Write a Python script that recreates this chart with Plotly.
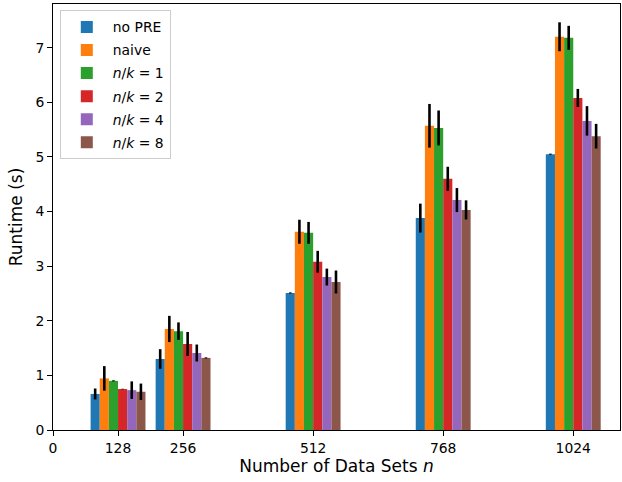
import plotly.graph_objects as go

n_values = [128, 256, 512, 768, 1024]
series_names = ["no PRE", "naive", "<i>n</i>/<i>k</i> = 1", "<i>n</i>/<i>k</i> = 2",
                "<i>n</i>/<i>k</i> = 4", "<i>n</i>/<i>k</i> = 8"]
no_pre = [0.66, 1.30, 2.51, 3.88, 5.05]
no_pre_err = [0.10, 0.18, 0.01, 0.265, 0.01]
naive = [0.945, 1.85, 3.63, 5.57, 7.20]
naive_err = [0.225, 0.24, 0.22, 0.40, 0.265]
nk1 = [0.90, 1.81, 3.61, 5.53, 7.18]
nk1_err = [0.01, 0.16, 0.20, 0.32, 0.22]
nk2 = [0.75, 1.575, 3.08, 4.60, 6.08]
nk2_err = [0.005, 0.22, 0.20, 0.22, 0.165]
nk4 = [0.73, 1.41, 2.80, 4.21, 5.66]
nk4_err = [0.16, 0.155, 0.155, 0.22, 0.27]
nk8 = [0.70, 1.32, 2.71, 4.03, 5.38]
nk8_err = [0.15, 0.01, 0.21, 0.175, 0.225]
x_ticks = [0, 128, 256, 512, 768, 1024]
y_ticks = [0, 1, 2, 3, 4, 5, 6, 7]

colors = ["#1f77b4", "#ff7f0e", "#2ca02c", "#d62728", "#9467bd", "#8c564b"]
all_vals = [no_pre, naive, nk1, nk2, nk4, nk8]
all_errs = [no_pre_err, naive_err, nk1_err, nk2_err, nk4_err, nk8_err]

fig = go.Figure()
for i, (name, vals, errs) in enumerate(zip(series_names, all_vals, all_errs)):
    fig.add_trace(go.Bar(
        x=n_values, y=vals, name=name, legendgroup=str(i),
        marker=dict(color=colors[i], line=dict(width=0)),
        error_y=dict(type="data", array=errs, visible=True, color="black",
                     thickness=2.6, width=0),
    ))

font = "DejaVu Sans, Arial, sans-serif"
fig.update_layout(
    width=622, height=482,
    margin=dict(l=53, r=2, t=4, b=52, autoexpand=False),
    paper_bgcolor="white", plot_bgcolor="white",
    barmode="group", bargap=0.15625, bargroupgap=0,
    font=dict(family=font, size=13.9, color="black"),
    showlegend=True,
    legend=dict(x=0.012, y=0.985, xanchor="left", yanchor="top",
                bgcolor="rgba(255,255,255,0.8)", bordercolor="#cccccc", borderwidth=1,
                font=dict(size=13.9), tracegroupgap=2, itemwidth=42),
    xaxis=dict(range=[0, 1116], tickmode="array", tickvals=x_ticks,
               showline=True, linecolor="black", linewidth=1, mirror=True,
               ticks="outside", ticklen=5, tickcolor="black", showgrid=False,
               zeroline=False, automargin=False,
               title=dict(text="Number of Data Sets <i>n</i>", standoff=5)),
    yaxis=dict(range=[0, 7.80], tickmode="array", tickvals=y_ticks,
               showline=True, linecolor="black", linewidth=1, mirror=True,
               ticks="outside", ticklen=5, tickcolor="black", showgrid=False,
               zeroline=False, automargin=False,
               title=dict(text="Runtime (s)", standoff=8)),
)

fig.write_html("out.html", config={"displayModeBar": False},
               post_script="document.body.style.margin='0px';")
